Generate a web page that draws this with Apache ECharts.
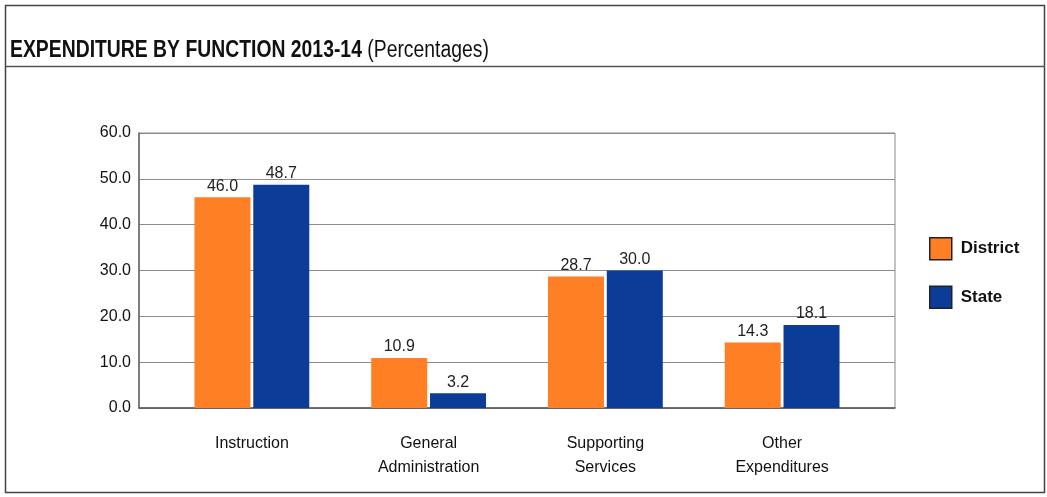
<!DOCTYPE html>
<html>
<head>
<meta charset="utf-8">
<script src="https://cdn.jsdelivr.net/npm/echarts@6/dist/echarts.min.js"></script>
<style>
html,body{margin:0;padding:0;background:#fff;}
#chart{width:1047px;height:497px;}
</style>
</head>
<body>
<div id="chart"></div>
<script>
const categories = ['Instruction', 'General\nAdministration', 'Supporting\nServices', 'Other\nExpenditures'];
const districtValues = [46.0, 10.9, 28.7, 14.3];
const stateValues = [48.7, 3.2, 30.0, 18.1];
const seriesNames = ['District', 'State'];
const titleBold = 'EXPENDITURE BY FUNCTION 2013-14';
const titleNormal = '(Percentages)';
const yMin = 0, yMax = 60, yStep = 10;

const FONT = '"Liberation Sans", Arial, sans-serif';
const chart = echarts.init(document.getElementById('chart'));
chart.setOption({
  backgroundColor: '#ffffff',
  animation: false,
  textStyle: { fontFamily: FONT },
  graphic: [
    { type: 'rect', shape: { x: 5.5, y: 5.5, width: 1039, height: 487 }, style: { fill: 'none', stroke: '#444', lineWidth: 1.5 }, silent: true },
    { type: 'line', shape: { x1: 5.5, y1: 66.5, x2: 1045, y2: 66.5 }, style: { stroke: '#555', lineWidth: 1.5 }, silent: true },
    { type: 'text', x: 10, y: 51, scaleX: 0.842, silent: true,
      style: {
        text: '{b|' + titleBold + '} {n|' + titleNormal + '}',
        verticalAlign: 'middle', align: 'left',
        fontFamily: FONT, fontSize: 23,
        rich: {
          b: { fontFamily: FONT, fontSize: 23, fontWeight: 'bold', fill: '#111' },
          n: { fontFamily: FONT, fontSize: 23, fontWeight: 'normal', fill: '#111' }
        }
      } }
  ],
  legend: {
    orient: 'vertical',
    left: 924, top: 232,
    itemWidth: 22, itemHeight: 22, itemGap: 25,
    icon: 'rect',
    itemStyle: { borderColor: '#222', borderWidth: 1.5 },
    textStyle: { fontFamily: FONT, fontSize: 17, fontWeight: 'bold', color: '#111', padding: [0, 0, 0, 4] },
    data: seriesNames
  },
  grid: [
    { left: 139, right: 152, top: 133, bottom: 89, show: true, borderColor: '#888', borderWidth: 1, backgroundColor: 'transparent' },
    { left: 163.5, right: 176.5, top: 133, bottom: 89 }
  ],
  xAxis: [
    { gridIndex: 0, type: 'value', min: 0, max: 1, axisLabel: { show: false }, axisTick: { show: false }, splitLine: { show: false },
      axisLine: { show: true, lineStyle: { color: '#555', width: 1.5 } } },
    { gridIndex: 1, type: 'category', data: categories,
      axisLine: { show: false }, axisTick: { show: false },
      axisLabel: { margin: 24, fontFamily: FONT, fontSize: 16, color: '#111', lineHeight: 24 } }
  ],
  yAxis: [
    { gridIndex: 0, type: 'value', min: yMin, max: yMax, interval: yStep,
      axisLine: { show: true, lineStyle: { color: '#666', width: 1.5 } },
      axisTick: { show: false },
      axisLabel: { margin: 8, fontFamily: FONT, fontSize: 16, color: '#111', formatter: v => v.toFixed(1) },
      splitLine: { show: true, lineStyle: { color: '#8c8c8c', width: 1 } } },
    { gridIndex: 1, type: 'value', min: yMin, max: yMax, interval: yStep, show: false, splitLine: { show: false } }
  ],
  series: [
    { name: seriesNames[0], type: 'bar', xAxisIndex: 1, yAxisIndex: 1, data: districtValues,
      barWidth: 56, barGap: '5%',
      itemStyle: { color: '#ff7f24' },
      label: { show: true, position: 'top', distance: 3, fontFamily: FONT, fontSize: 16, color: '#222', formatter: p => p.value.toFixed(1) } },
    { name: seriesNames[1], type: 'bar', xAxisIndex: 1, yAxisIndex: 1, data: stateValues,
      barWidth: 56, barGap: '5%',
      itemStyle: { color: '#0b3d98' },
      label: { show: true, position: 'top', distance: 3, fontFamily: FONT, fontSize: 16, color: '#222', formatter: p => p.value.toFixed(1) } }
  ]
});
</script>
</body>
</html>
